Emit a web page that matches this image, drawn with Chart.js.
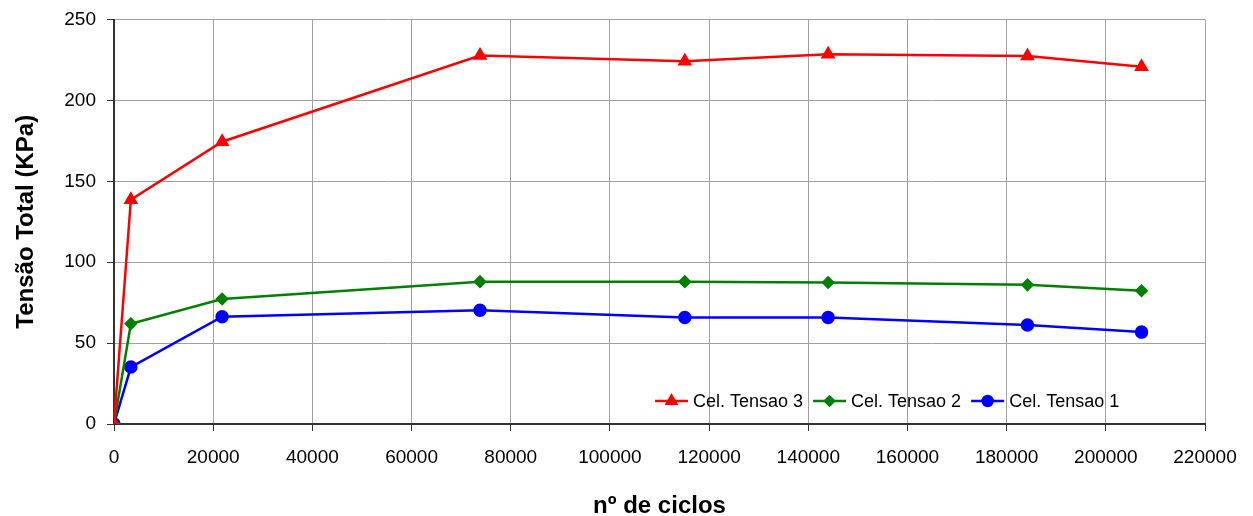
<!DOCTYPE html>
<html>
<head>
<meta charset="utf-8">
<script src="https://cdn.jsdelivr.net/npm/chart.js@4/dist/chart.umd.min.js"></script>
<style>
  html, body { margin: 0; padding: 0; background: #fff; }
  #wrap { width: 1253px; height: 516px; }
</style>
</head>
<body>
<div id="wrap"><canvas id="chart" width="1253" height="516"></canvas></div>
<script>
// ciclos (eixo x)
const ciclos = [0, 3400, 21800, 73800, 115100, 144000, 184200, 207200];

// tensões (KPa)
const tensao3 = [0, 138.6, 174.5, 227.8, 224.3, 228.6, 227.4, 220.8];
const tensao2 = [0, 62.0, 77.3, 88.0, 88.0, 87.4, 86.0, 82.4];
const tensao1 = [0, 35.2, 66.3, 70.3, 65.8, 65.8, 61.2, 56.8];

const seriesLabels = ['Cel. Tensao 3', 'Cel. Tensao 2', 'Cel. Tensao 1'];
const xTicks = [0, 20000, 40000, 60000, 80000, 100000, 120000, 140000, 160000, 180000, 200000, 220000];

const fonte = '"Liberation Sans", Arial, sans-serif';

function pontos(ys) {
    return ciclos.map(function(x, i) { return { x: x, y: ys[i] }; });
}

// legenda desenhada dentro da área do gráfico (canto inferior direito)
const legendaInterna = {
    id: 'legendaInterna',
    afterDatasetsDraw(chart) {
        const ctx = chart.ctx;
        const area = chart.chartArea;
        ctx.save();
        ctx.font = '18px ' + fonte;
        ctx.textBaseline = 'middle';
        const y = area.bottom - 23;
        let x = 655;
        chart.data.datasets.forEach(function(ds) {
            ctx.strokeStyle = ds.borderColor;
            ctx.fillStyle = ds.borderColor;
            ctx.lineWidth = 2.5;
            ctx.beginPath();
            ctx.moveTo(x, y);
            ctx.lineTo(x + 33, y);
            ctx.stroke();
            Chart.helpers.drawPoint(ctx, { pointStyle: ds.pointStyle, radius: ds.pointRadius - 0.5, borderWidth: 1 }, x + 16.5, y);
            ctx.fillStyle = '#000';
            ctx.fillText(ds.label, x + 38, y + 1);
            x += 38 + ctx.measureText(ds.label).width + 10;
        });
        ctx.restore();
    }
};

const ctx = document.getElementById('chart').getContext('2d');
new Chart(ctx, {
    type: 'line',
    data: {
        datasets: [
            {
                label: seriesLabels[0],
                data: pontos(tensao3),
                borderColor: '#ff0000',
                backgroundColor: '#ff0000',
                pointStyle: 'triangle',
                pointRadius: 6,
                borderWidth: 2.5
            },
            {
                label: seriesLabels[1],
                data: pontos(tensao2),
                borderColor: '#008000',
                backgroundColor: '#008000',
                pointStyle: 'rectRot',
                pointRadius: 5,
                borderWidth: 2.5
            },
            {
                label: seriesLabels[2],
                data: pontos(tensao1),
                borderColor: '#0000ff',
                backgroundColor: '#0000ff',
                pointStyle: 'circle',
                pointRadius: 5.5,
                borderWidth: 2.5
            }
        ]
    },
    options: {
        responsive: false,
        animation: false,
        layout: { padding: { left: 0, right: 48, top: 19, bottom: 0 } },
        plugins: {
            legend: { display: false },
            tooltip: { enabled: false }
        },
        scales: {
            x: {
                type: 'linear',
                min: 0,
                max: 220000,
                afterBuildTicks: function(scale) {
                    scale.ticks = xTicks.map(function(v) { return { value: v }; });
                },
                afterFit: function(scale) { scale.height = 92; },
                ticks: {
                    color: '#000',
                    font: { family: fonte, size: 19 },
                    maxRotation: 0,
                    padding: 15,
                    callback: function(v) { return String(v); }
                },
                grid: { color: '#a0a0a0', tickColor: '#333', tickLength: 7 },
                border: { color: '#333', width: 2 },
                title: {
                    display: true,
                    text: 'nº de ciclos',
                    color: '#000',
                    font: { family: fonte, size: 24, weight: 'bold', lineHeight: 0.8 },
                    padding: { top: 0, bottom: 0 }
                }
            },
            y: {
                min: 0,
                max: 250,
                afterFit: function(scale) { scale.width = 114; },
                ticks: {
                    stepSize: 50,
                    color: '#000',
                    font: { family: fonte, size: 19, lineHeight: 0.9 },
                    padding: 11
                },
                grid: { color: '#a0a0a0', tickColor: '#333', tickLength: 7 },
                border: { color: '#333', width: 2 },
                title: {
                    display: true,
                    text: 'Tensão Total (KPa)',
                    color: '#000',
                    font: { family: fonte, size: 24, weight: 'bold', lineHeight: 1.2 },
                    padding: { top: 12, bottom: 0 }
                }
            }
        }
    },
    plugins: [legendaInterna]
});
</script>
</body>
</html>
